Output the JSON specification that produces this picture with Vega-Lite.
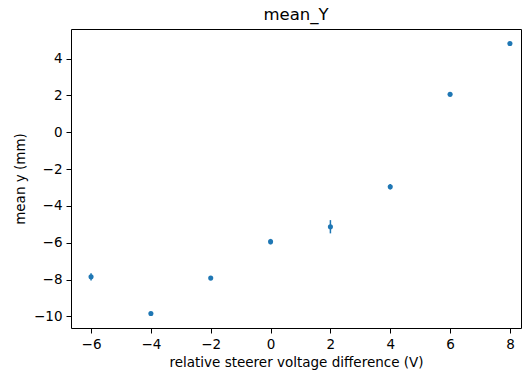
{
  "$schema": "https://vega.github.io/schema/vega-lite/v6.json",
  "width": 450,
  "height": 299,
  "autosize": "none",
  "padding": {"left": 71, "top": 29, "right": 2, "bottom": 42},
  "background": "white",
  "title": {"text": "mean_Y", "font": "DejaVu Sans", "fontSize": 16.5, "fontWeight": "normal", "color": "black", "offset": 6},
  "config": {
    "view": {"stroke": "black", "strokeWidth": 1},
    "axis": {"grid": false, "domain": false, "tickColor": "black", "tickSize": 5, "labelFont": "DejaVu Sans", "labelFontSize": 13.5, "labelColor": "black", "titleFont": "DejaVu Sans", "titleFontSize": 13.5, "titleFontWeight": "normal", "titleColor": "black", "labelPadding": 4, "labelExpr": "replace(datum.label, '-', '−')"}
  },
  "data": {"values": [
    {"v": -6, "y": -7.85, "err": 0.2},
    {"v": -4, "y": -9.84, "err": 0.08},
    {"v": -2, "y": -7.92, "err": 0.08},
    {"v": 0, "y": -5.94, "err": 0.15},
    {"v": 2, "y": -5.13, "err": 0.36},
    {"v": 4, "y": -2.96, "err": 0.15},
    {"v": 6, "y": 2.06, "err": 0.06},
    {"v": 8, "y": 4.82, "err": 0.06}
  ]},
  "encoding": {
    "x": {"field": "v", "type": "quantitative", "scale": {"domain": [-6.67, 8.37], "nice": false, "zero": false}, "axis": {"values": [-6, -4, -2, 0, 2, 4, 6, 8], "title": "relative steerer voltage difference (V)", "titlePadding": 5}}
  },
  "layer": [
    {
      "mark": {"type": "errorbar", "color": "#1f77b4", "thickness": 1.5},
      "encoding": {
        "y": {"field": "y", "type": "quantitative", "scale": {"domain": [-10.63, 5.61], "nice": false, "zero": false}, "axis": {"values": [-10, -8, -6, -4, -2, 0, 2, 4], "title": "mean y (mm)", "titlePadding": 6}},
        "yError": {"field": "err"}
      }
    },
    {
      "mark": {"type": "circle", "color": "#1f77b4", "opacity": 1, "size": 26},
      "encoding": {
        "y": {"field": "y", "type": "quantitative"}
      }
    }
  ]
}
